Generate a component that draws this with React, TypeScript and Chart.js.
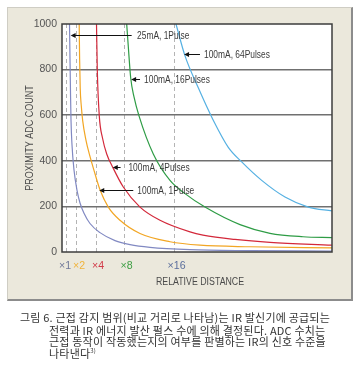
import React, { useEffect, useRef } from 'react';
import { Chart, registerables } from 'chart.js';

Chart.register(...registerables);

// Relative distance axis runs 0..100 (arbitrary units across the plot width)
const distanceMarks = [1.5, 5.4, 12.8, 23.0, 41.5];
const distanceLabels = ['×1', '×2', '×4', '×8', '×16'];
const distanceLabelColors = ['#6f7898', '#f0b33a', '#d23a48', '#3f9f45', '#5b6e9c'];

const countTicks = [0, 200, 400, 600, 800, 1000];

const seriesNames = ['25mA, 1Pulse', '100mA, 1Pulse', '100mA, 4Pulses', '100mA, 16Pulses', '100mA, 64Pulses'];
const seriesColors = ['#8189c2', '#f2a624', '#d3283a', '#2e9c45', '#55b0e2'];

const ma25p1Dist = [2.78, 2.96, 3.15, 3.33, 3.7, 4.44, 5.56, 6.67, 8.15, 10.37, 14.07, 19.63, 25.19, 32.59, 47.41, 69.63, 100];
const ma25p1Count = [1000, 850, 700, 580, 470, 360, 270, 215, 170, 125, 85, 50, 32, 20, 10, 6, 4];

const ma100p1Dist = [6.37, 6.52, 6.74, 7.15, 7.67, 8.89, 10.11, 12.22, 14.07, 17.15, 21.48, 28.89, 40, 51.11, 69.63, 100];
const ma100p1Count = [1000, 850, 720, 640, 575, 490, 430, 343, 273, 197, 139, 81, 45, 30, 23, 18];

const ma100p4Dist = [12.78, 13.07, 13.81, 15.0, 16.56, 18.78, 22.7, 28.89, 36.3, 47.41, 52.22, 64.07, 77.04, 100];
const ma100p4Count = [1000, 800, 597, 500, 430, 372, 285, 197, 139, 88, 74, 55, 42, 30];

const ma100p16Dist = [23.96, 24.56, 25.44, 26.67, 28.52, 33.81, 40, 45.56, 52.96, 65.93, 77.04, 89.26, 100];
const ma100p16Count = [1000, 900, 764, 680, 597, 430, 314, 256, 197, 120, 82, 67, 63];

const ma100p64Dist = [42.22, 45.56, 50.48, 55.93, 61.59, 66.56, 73.96, 82.59, 91.22, 100];
const ma100p64Count = [1000, 860, 720, 580, 459, 395, 314, 241, 197, 180];

const seriesDist = [ma25p1Dist, ma100p1Dist, ma100p4Dist, ma100p16Dist, ma100p64Dist];
const seriesCount = [ma25p1Count, ma100p1Count, ma100p4Count, ma100p16Count, ma100p64Count];

// Callout layout (in axis units): arrow tip, arrow tail, text start
const callouts = [
  { text: '25mA, 1Pulse', tipX: 3.2, y: 952, tailX: 25.8, textX: 27.8 },
  { text: '100mA, 64Pulses', tipX: 45.2, y: 867, tailX: 51.1, textX: 52.6 },
  { text: '100mA, 16Pulses', tipX: 25.6, y: 760, tailX: 28.9, textX: 30.4 },
  { text: '100mA, 4Pulses', tipX: 18.8, y: 372, tailX: 21.7, textX: 24.6 },
  { text: '100mA, 1Pulse', tipX: 13.8, y: 273, tailX: 26.4, textX: 27.9 },
];

// horizontal nudge (px) of each distance label relative to its dashed line
const distanceLabelNudge = [-1, 2.5, 1.5, 2.5, 2.5];

const captionLines = [
  '그림 6. 근접 감지 범위(비교 거리로 나타남)는 IR 발신기에 공급되는',
  '전력과 IR 에너지 발산 펄스 수에 의해 결정된다. ADC 수치는',
  '근접 동작이 작동했는지의 여부를 판별하는 IR의 신호 수준을',
  '나타낸다',
];

const FONT = '"Liberation Sans", Arial, sans-serif';

const decorPlugin = {
  id: 'decor',
  beforeDraw(chart: any) {
    const { ctx, chartArea } = chart;
    ctx.save();
    ctx.fillStyle = '#ffffff';
    ctx.fillRect(chartArea.left, chartArea.top, chartArea.right - chartArea.left, chartArea.bottom - chartArea.top);
    ctx.restore();
  },
  afterDatasetsDraw(chart: any) {
    const { ctx, chartArea, scales } = chart;
    const xs = scales.x;
    const ys = scales.y;
    ctx.save();
    // plot frame
    ctx.strokeStyle = '#3c3c3c';
    ctx.lineWidth = 1.5;
    ctx.strokeRect(chartArea.left, chartArea.top, chartArea.right - chartArea.left, chartArea.bottom - chartArea.top);

    // callouts
    for (const c of callouts) {
      const tip = xs.getPixelForValue(c.tipX);
      const tail = xs.getPixelForValue(c.tailX);
      const tx = xs.getPixelForValue(c.textX);
      const py = Math.round(ys.getPixelForValue(c.y)) + 0.5;
      ctx.strokeStyle = '#111';
      ctx.lineWidth = 1;
      ctx.beginPath();
      ctx.moveTo(tip + 3, py);
      ctx.lineTo(tail, py);
      ctx.stroke();
      ctx.fillStyle = '#111';
      ctx.beginPath();
      ctx.moveTo(tip, py);
      ctx.lineTo(tip + 5, py - 2.5);
      ctx.lineTo(tip + 5, py + 2.5);
      ctx.closePath();
      ctx.fill();
      ctx.save();
      ctx.translate(tx, py);
      ctx.scale(0.8, 1);
      ctx.font = '10.5px ' + FONT;
      ctx.fillStyle = '#3a3a3a';
      ctx.textBaseline = 'middle';
      ctx.textAlign = 'left';
      ctx.fillText(c.text, 0, 0.5);
      ctx.restore();
    }

    // distance labels
    distanceMarks.forEach((m, i) => {
      ctx.save();
      ctx.translate(xs.getPixelForValue(m) + distanceLabelNudge[i], chartArea.bottom + 14);
      ctx.scale(0.92, 1);
      ctx.font = '11.5px ' + FONT;
      ctx.fillStyle = distanceLabelColors[i];
      ctx.textAlign = 'center';
      ctx.textBaseline = 'middle';
      ctx.fillText(distanceLabels[i], 0, 0);
      ctx.restore();
    });

    // axis titles
    ctx.fillStyle = '#4a4a4a';
    ctx.font = '10px ' + FONT;
    ctx.textBaseline = 'middle';
    ctx.textAlign = 'center';
    ctx.save();
    ctx.translate(30, (chartArea.top + chartArea.bottom) / 2);
    ctx.rotate(-Math.PI / 2);
    ctx.scale(0.9, 1);
    ctx.fillText('PROXIMITY ADC COUNT', 0, 0);
    ctx.restore();
    ctx.save();
    ctx.translate((chartArea.left + chartArea.right) / 2 + 3, chartArea.bottom + 30);
    ctx.scale(0.88, 1);
    ctx.fillText('RELATIVE DISTANCE', 0, 0);
    ctx.restore();
    ctx.restore();
  },
};

export default function App() {
  const ref = useRef<HTMLCanvasElement | null>(null);

  useEffect(() => {
    if (!ref.current) return;
    const datasets = seriesNames.map((name, i) => ({
      label: name,
      data: seriesDist[i].map((d, j) => ({ x: d, y: seriesCount[i][j] })),
      borderColor: seriesColors[i],
      backgroundColor: seriesColors[i],
      borderWidth: 1.2,
      pointRadius: 0,
      fill: false,
      cubicInterpolationMode: 'monotone' as const,
    }));
    const chart = new Chart(ref.current, {
      type: 'line',
      data: { datasets },
      options: {
        animation: false,
        responsive: false,
        maintainAspectRatio: false,
        layout: { padding: { left: 22, right: 27, top: 24, bottom: 98 } },
        plugins: { legend: { display: false }, tooltip: { enabled: false } },
        scales: {
          x: {
            type: 'linear',
            min: 0,
            max: 100,
            afterFit: (s: any) => { s.height = 22; },
            afterBuildTicks: (s: any) => { s.ticks = distanceMarks.map((v) => ({ value: v })); },
            ticks: { display: false, autoSkip: false },
            grid: { color: '#b4b4b4', lineWidth: 1, drawTicks: false },
            border: { display: false, dash: [4, 3] },
          },
          y: {
            type: 'linear',
            min: 0,
            max: 1000,
            afterFit: (s: any) => { s.width = 40; },
            afterBuildTicks: (s: any) => { s.ticks = countTicks.map((v) => ({ value: v })); },
            ticks: {
              padding: 5,
              color: '#555',
              font: { family: FONT, size: 10.5 },
              callback: (v: any) => String(v),
            },
            grid: {
              color: (c: any) => (c.tick && (c.tick.value === 0 || c.tick.value === 1000) ? 'rgba(0,0,0,0)' : '#707070'),
              lineWidth: 1.5,
              drawTicks: false,
            },
            border: { display: false },
          },
        },
      },
      plugins: [decorPlugin],
    });
    return () => chart.destroy();
  }, []);

  const lineStyle = (top: number, left: number): React.CSSProperties => ({
    position: 'absolute',
    top,
    left,
    whiteSpace: 'pre',
    fontFamily: '"Noto Sans CJK KR", sans-serif',
    fontSize: '11px',
    letterSpacing: '0.2px',
    lineHeight: '12px',
    color: '#333',
  });

  return (
    <div style={{ position: 'absolute', left: 0, top: 0, width: 359, height: 372, background: '#fff', overflow: 'hidden' }}>
      <div
        style={{
          position: 'absolute',
          left: 7,
          top: 7,
          width: 346,
          height: 294,
          boxSizing: 'border-box',
          background: '#ebe8dc',
          borderLeft: '1px solid #cfcdc4',
          borderTop: '1px solid #cfcdc4',
          borderRight: '2px solid #8c8c8c',
          borderBottom: '2px solid #8c8c8c',
        }}
      />
      <canvas ref={ref} width={359} height={372} style={{ position: 'absolute', left: 0, top: 0 }} />
      <div style={lineStyle(310.5, 20)}>{captionLines[0]}</div>
      <div style={lineStyle(323.5, 49)}>{captionLines[1]}</div>
      <div style={lineStyle(335, 49)}>{captionLines[2]}</div>
      <div style={lineStyle(346.5, 49)}>
        {captionLines[3]}
        <sup style={{ fontSize: '6px', verticalAlign: 'top', lineHeight: '8px' }}>3)</sup>
      </div>
    </div>
  );
}
